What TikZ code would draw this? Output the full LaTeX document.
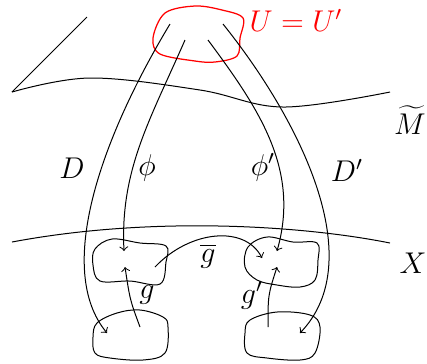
\documentclass[tikz,border=0pt]{standalone}
\usetikzlibrary{arrows}
\begin{document}
\begin{tikzpicture}[x=0.4pt,y=-0.4pt,
  line/.style={draw=black,line width=0.4pt},
  arr/.style={line,->},
  lab/.style={inner sep=0pt,font=\large}]
\useasboundingbox (0,0) rectangle (427,363);
% surface M tilde
\coordinate (m0) at (87,17);
\coordinate (m1) at (12,92);
\coordinate (m2) at (390,92);
\draw[line] (m0) -- (m1);
\draw[line] plot[smooth,tension=0.6] coordinates {(12,92) (90,78) (200,90) (283,107) (390,92)};
% X
\coordinate (x0) at (12,242);
\coordinate (x1) at (390,243);
\draw[line] (x0) .. controls (150,216) and (300,225) .. (x1);
% red blob
\draw[red,line width=0.5pt] plot[smooth cycle,tension=0.55] coordinates {(153,38) (165,13) (195,6) (222,10) (243,18) (240,38) (237,56) (215,62) (195,61) (160,54)};
% blobs
\draw[line] plot[smooth cycle,tension=0.6] coordinates {(95,249) (112,239) (140,243) (166,246) (166,262) (160,284) (130,281) (100,281) (93,265)};
\draw[line] plot[smooth cycle,tension=0.6] coordinates {(248,247) (267,237) (293,242) (317,243) (318,260) (315,280) (300,287) (277,285) (257,280) (245,267)};
\draw[line] plot[smooth cycle,tension=0.6] coordinates {(97,323) (117,313) (140,310) (163,317) (168,327) (165,353) (143,360) (110,358) (95,353) (93,337)};
\draw[line] plot[smooth cycle,tension=0.6] coordinates {(250,320) (277,312) (310,315) (320,327) (315,353) (300,360) (267,358) (247,353) (245,333)};
% endpoints
\coordinate (dS) at (170,24);
\coordinate (dE) at (107,333);
\coordinate (pS) at (185,40);
\coordinate (pE) at (124,251);
\coordinate (qS) at (208,40);
\coordinate (qE) at (277,251);
\coordinate (eS) at (223,24);
\coordinate (eE) at (300,333);
\coordinate (gS) at (140,327);
\coordinate (gE) at (125,267);
\coordinate (hS) at (268,327);
\coordinate (hE) at (277,267);
\coordinate (bS) at (155,267);
\coordinate (bE) at (262,258);
\draw[arr] (dS) .. controls (100,140) and (55,270) .. (dE);
\draw[arr] (pS) .. controls (150,120) and (120,170) .. (pE);
\draw[arr] (qS) .. controls (260,110) and (300,170) .. (qE);
\draw[arr] (eS) .. controls (300,120) and (370,260) .. (eE);
\draw[arr] (gS) .. controls (130,300) .. (gE);
\draw[arr] (hS) .. controls (268,295) .. (hE);
\draw[arr] (bS) .. controls (190,230) and (245,225) .. (bE);
% labels
\node[lab,red] (U) at (296,20) {$U=U'$};
\node[lab] (Mt) at (410,120) {$\widetilde{M}$};
\node[lab] (X) at (413,263) {$X$};
\node[lab] (D) at (72,168) {$D$};
\node[lab] (phi) at (147,168) {$\phi$};
\node[lab] (phip) at (263,167) {$\phi'$};
\node[lab] (Dp) at (347,170) {$D'$};
\node[lab] (gb) at (208,256) {$\overline{g}$};
\node[lab] (g) at (147,295) {$g$};
\node[lab] (gp) at (252,295) {$g'$};
\end{tikzpicture}
\end{document}
